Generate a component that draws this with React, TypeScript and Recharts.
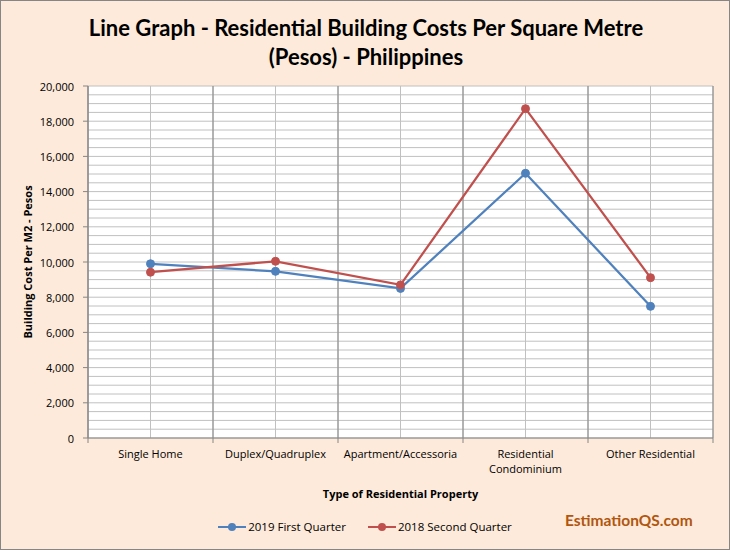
import {
  LineChart,
  Line,
  XAxis,
  YAxis,
  CartesianGrid,
  ReferenceLine,
  Legend,
  Text,
} from 'recharts';

const categories = [
  'Single Home',
  'Duplex/Quadruplex',
  'Apartment/Accessoria',
  'Residential Condominium',
  'Other Residential',
];
const firstQuarter2019 = [9900, 9470, 8500, 15040, 7480];
const secondQuarter2018 = [9420, 10040, 8700, 18710, 9110];

// grid every 500, labels every 2000
const yTicks = [
  0, 500, 1000, 1500, 2000, 2500, 3000, 3500, 4000, 4500, 5000, 5500, 6000, 6500,
  7000, 7500, 8000, 8500, 9000, 9500, 10000, 10500, 11000, 11500, 12000, 12500,
  13000, 13500, 14000, 14500, 15000, 15500, 16000, 16500, 17000, 17500, 18000,
  18500, 19000, 19500, 20000,
];
const yLabelStep = 2000;
// category slots on a 0..5 axis: boundaries at integers, labels at the halves
const boundaries = [0, 1, 2, 3, 4, 5];
const xTicks = [0, 0.5, 1, 1.5, 2, 2.5, 3, 3.5, 4, 4.5, 5];

const seriesOrder = ['2019 First Quarter', '2018 Second Quarter'];

const data = categories.map((name, i) => ({
  name,
  pos: i + 0.5,
  q2019: firstQuarter2019[i],
  q2018: secondQuarter2018[i],
}));

const BLUE = '#4F81BD';
const RED = '#C0504D';
const AXIS = '#868686';
const FONT = '"Open Sans", sans-serif';

const CategoryTick = ({ x, y, payload }: any) => {
  const v = payload.value;
  if (Number.isInteger(v)) {
    return <line x1={x} y1={y} x2={x} y2={y + 5} stroke={AXIS} />;
  }
  return (
    <Text
      x={x}
      y={y + 12}
      width={115}
      textAnchor="middle"
      verticalAnchor="start"
      fontSize={11}
      fontFamily={FONT}
      fill="#000"
      lineHeight={15}
    >
      {categories[Math.floor(v)]}
    </Text>
  );
};

const ValueTick = ({ x, y, payload }: any) => {
  const v = payload.value;
  if (v % yLabelStep !== 0) return null;
  return (
    <g>
      <line x1={x - 5} y1={y} x2={x} y2={y} stroke={AXIS} />
      <text
        x={x - 14}
        y={y}
        textAnchor="end"
        dominantBaseline="central"
        fontSize={11}
        fontFamily={FONT}
        fill="#000"
      >
        {v.toLocaleString('en-US')}
      </text>
    </g>
  );
};

const YLabel = ({ viewBox }: any) => {
  const cx = 27;
  const cy = viewBox.y + viewBox.height / 2;
  return (
    <text
      x={cx}
      y={cy}
      transform={`rotate(-90 ${cx} ${cy})`}
      textAnchor="middle"
      dominantBaseline="central"
      fontSize={11}
      fontWeight="bold"
      fontFamily={FONT}
      fill="#000"
    >
      Building Cost Per M2 - Pesos
    </text>
  );
};

const LegendContent = ({ payload }: any) => {
  const items = [...(payload || [])].sort(
    (a: any, b: any) => seriesOrder.indexOf(a.value) - seriesOrder.indexOf(b.value),
  );
  return (
    <div style={{ display: 'flex', justifyContent: 'center', gap: 22 }}>
      {items.map((p: any) => (
        <div key={p.value} style={{ display: 'flex', alignItems: 'center' }}>
          <svg width={30} height={10}>
            <line x1={0} y1={5} x2={28} y2={5} stroke={p.color} strokeWidth={2} />
            <circle cx={14} cy={5} r={4} fill={p.color} />
          </svg>
          <span style={{ fontSize: 11.5, fontFamily: FONT, color: '#000' }}>{p.value}</span>
        </div>
      ))}
    </div>
  );
};

export default function App() {
  return (
    <div
      style={{
        position: 'absolute',
        left: 0,
        top: 0,
        width: 730,
        height: 550,
        background: '#FDEADA',
        boxSizing: 'border-box',
        border: '1px solid #868686',
      }}
    >
      <div
        style={{
          position: 'absolute',
          left: 0,
          top: 12,
          width: 730,
          textAlign: 'center',
          fontFamily: 'Lato, sans-serif',
          fontWeight: 'bold',
          fontSize: 22,
          lineHeight: '29px',
          color: '#000',
        }}
      >
        Line Graph - Residential Building Costs Per Square Metre
        <br />
        (Pesos) - Philippines
      </div>
      <div style={{ position: 'absolute', left: -1, top: -1 }}>
        <LineChart
          width={730}
          height={550}
          data={data}
          margin={{ top: 86, right: 17, left: 28, bottom: 50 }}
        >
          <CartesianGrid stroke="#C0C0C0" fill="#FFFFFF" />
          <XAxis
            dataKey="pos"
            type="number"
            domain={[0, 5]}
            ticks={xTicks}
            interval={0}
            height={62}
            tickSize={0}
            tickMargin={0}
            tickLine={false}
            axisLine={{ stroke: AXIS }}
            tick={<CategoryTick />}
            label={{
              value: 'Type of Residential Property',
              position: 'insideBottom',
              offset: 2,
              fontSize: 11,
              fontWeight: 'bold',
              fontFamily: FONT,
              fill: '#000',
            }}
          />
          <YAxis
            domain={[0, 20000]}
            ticks={yTicks}
            interval={0}
            width={60}
            tickSize={0}
            tickMargin={0}
            tickLine={false}
            axisLine={{ stroke: AXIS }}
            tick={<ValueTick />}
            label={<YLabel />}
          />
          {boundaries.map((b) => (
            <ReferenceLine key={b} x={b} stroke={AXIS} />
          ))}
          <Legend
            verticalAlign="middle"
            align="center"
            layout="horizontal"
            wrapperStyle={{ top: 519, left: 0, width: 730 }}
            content={<LegendContent />}
          />
          <Line
            dataKey="q2019"
            name="2019 First Quarter"
            stroke={BLUE}
            strokeWidth={2.25}
            dot={{ r: 4, fill: BLUE, stroke: BLUE, strokeWidth: 1 }}
            activeDot={false}
            isAnimationActive={false}
          />
          <Line
            dataKey="q2018"
            name="2018 Second Quarter"
            stroke={RED}
            strokeWidth={2.25}
            dot={{ r: 4, fill: RED, stroke: RED, strokeWidth: 1 }}
            activeDot={false}
            isAnimationActive={false}
          />
        </LineChart>
      </div>
      <div
        style={{
          position: 'absolute',
          left: 564,
          top: 510,
          fontFamily: 'Lato, sans-serif',
          fontWeight: 'bold',
          fontSize: 15.5,
          color: '#B0560F',
        }}
      >
        EstimationQS.com
      </div>
    </div>
  );
}
